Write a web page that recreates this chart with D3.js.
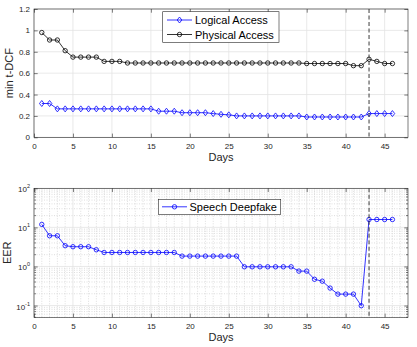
<!DOCTYPE html>
<html><head><meta charset="utf-8">
<script src="https://cdn.jsdelivr.net/npm/d3@7"></script>
<style>body{margin:0;background:#fff}svg{display:block}text{font-family:"Liberation Sans",Arial,sans-serif}</style>
</head><body><svg id="c" width="417" height="347"></svg>
<script>
const days = d3.range(1, 47);
const logicalAccess = [0.316,0.316,0.266,0.266,0.266,0.266,0.266,0.266,0.266,0.266,0.266,0.266,0.266,0.266,0.266,0.244,0.244,0.244,0.23,0.23,0.23,0.23,0.222,0.215,0.21,0.2,0.2,0.2,0.2,0.2,0.2,0.2,0.2,0.2,0.19,0.19,0.19,0.19,0.19,0.19,0.19,0.19,0.222,0.222,0.222,0.222];
const physicalAccess = [0.98,0.91,0.91,0.81,0.75,0.75,0.75,0.75,0.71,0.71,0.71,0.695,0.695,0.695,0.695,0.695,0.695,0.695,0.695,0.695,0.695,0.695,0.695,0.695,0.695,0.695,0.695,0.695,0.695,0.695,0.695,0.695,0.695,0.695,0.69,0.69,0.69,0.69,0.69,0.69,0.67,0.67,0.73,0.71,0.69,0.69];
const speechDeepfake = [11.9,6.1,6.1,3.4,3.2,3.2,3.2,2.67,2.28,2.28,2.28,2.28,2.28,2.28,2.28,2.28,2.28,2.28,1.84,1.84,1.84,1.84,1.84,1.84,1.84,1.84,0.98,0.98,0.98,0.98,0.98,0.98,0.98,0.76,0.76,0.47,0.42,0.28,0.196,0.196,0.196,0.099,15.9,15.9,15.9,15.9];
const xTicks = [0,5,10,15,20,25,30,35,40,45];
const yTicksTop = [0,0.2,0.4,0.6,0.8,1,1.2];
const yTicksBottom = [0.1,1,10,100];
const yExpBottom = ["-1","0","1","2"];
const cutDay = 43;

const svg = d3.select("#c");
const AX = "#262626", GRID = "#e3e3e3", MINOR = "#c8c8c8";
const L = 34, R = 408;
const x = d3.scaleLinear().domain([0,48]).range([L,R]);

function drawFrame(g, y, top, bot, isLog) {
  if (isLog) {
    const minors = [];
    [0.01,0.1,1,10].forEach(b => { for (let k=2;k<=9;k++){ const v=b*k; if (v>=0.05 && v<=100) minors.push(v);} });
    g.selectAll(".mgy").data(minors).enter().append("line")
      .attr("x1",L).attr("x2",R).attr("y1",d=>y(d)).attr("y2",d=>y(d))
      .attr("stroke",MINOR).attr("stroke-width",0.6).attr("stroke-dasharray","1,1.5");
    g.selectAll(".mgx").data(d3.range(1,48).filter(d=>d%5)).enter().append("line")
      .attr("x1",d=>x(d)).attr("x2",d=>x(d)).attr("y1",top).attr("y2",bot)
      .attr("stroke",MINOR).attr("stroke-width",0.6).attr("stroke-dasharray","1,1.5");
    [L,R].forEach((xx,i)=>{
      g.selectAll(".mt"+i).data(minors).enter().append("line")
        .attr("x1",xx).attr("x2",xx+(i?-2:2)).attr("y1",d=>y(d)).attr("y2",d=>y(d))
        .attr("stroke",AX).attr("stroke-width",0.6);
    });
  }
  const yt = isLog ? yTicksBottom : yTicksTop;
  g.selectAll(".gy").data(yt).enter().append("line")
    .attr("x1",L).attr("x2",R).attr("y1",d=>y(d)).attr("y2",d=>y(d))
    .attr("stroke",GRID).attr("stroke-width",0.8);
  g.selectAll(".gx").data(xTicks).enter().append("line")
    .attr("x1",d=>x(d)).attr("x2",d=>x(d)).attr("y1",top).attr("y2",bot)
    .attr("stroke",GRID).attr("stroke-width",0.8);
}

function drawAxes(g, y, top, bot, isLog, ylabel) {
  g.append("rect").attr("x",L).attr("y",top).attr("width",R-L).attr("height",bot-top)
    .attr("fill","none").attr("stroke",AX).attr("stroke-width",0.6);
  const xa = d3.axisBottom(x).tickValues(xTicks).tickSize(-3.7).tickPadding(6);
  const gx = g.append("g").attr("transform",`translate(0,${bot})`).call(xa);
  gx.select(".domain").remove();
  gx.selectAll("line").attr("stroke",AX).attr("stroke-width",0.6);
  gx.selectAll("text").attr("font-size",8).attr("fill",AX).attr("font-family","Liberation Sans, Arial");
  const xt = d3.axisTop(x).tickValues(xTicks).tickSize(-3.7).tickFormat("");
  const gxt = g.append("g").attr("transform",`translate(0,${top})`).call(xt);
  gxt.select(".domain").remove();
  gxt.selectAll("line").attr("stroke",AX).attr("stroke-width",0.6);

  const yt = isLog ? yTicksBottom : yTicksTop;
  const ya = d3.axisLeft(y).tickValues(yt).tickSize(-3.7).tickPadding(4)
    .tickFormat(isLog ? () => "" : d3.format("~g"));
  const gy = g.append("g").attr("transform",`translate(${L},0)`).call(ya);
  gy.select(".domain").remove();
  gy.selectAll("line").attr("stroke",AX).attr("stroke-width",0.6);
  gy.selectAll("text").attr("font-size",8).attr("fill",AX).attr("font-family","Liberation Sans, Arial");
  const yr = d3.axisRight(y).tickValues(yt).tickSize(-3.7).tickFormat("");
  const gyr = g.append("g").attr("transform",`translate(${R},0)`).call(yr);
  gyr.select(".domain").remove();
  gyr.selectAll("line").attr("stroke",AX).attr("stroke-width",0.6);
  if (isLog) {
    yt.forEach((v,i)=>{
      const t = g.append("text").attr("x",L-4).attr("y",y(v)+4).attr("text-anchor","end")
        .attr("font-size",8).attr("fill",AX);
      t.append("tspan").text("10");
      t.append("tspan").attr("font-size",5.5).attr("dy",-4).text(yExpBottom[i]);
    });
  }
  g.append("text").attr("x",(L+R)/2).attr("y",bot+24).attr("text-anchor","middle")
    .attr("font-size",11).attr("fill",AX).text("Days");
  const lx = isLog ? 11 : 13;
  g.append("text").attr("transform",`translate(${lx},${(top+bot)/2}) rotate(-90)`)
    .attr("text-anchor","middle").attr("font-size",11).attr("fill",AX).text(ylabel);
}

function diamond(sel, cx, cy, color) {
  sel.append("path").attr("d",`M${cx},${cy-3}L${cx+2.3},${cy}L${cx},${cy+3}L${cx-2.3},${cy}Z`)
    .attr("fill","none").attr("stroke",color).attr("stroke-width",0.8);
}
function circle(sel, cx, cy, color) {
  sel.append("circle").attr("cx",cx).attr("cy",cy).attr("r",2.2)
    .attr("fill","none").attr("stroke",color).attr("stroke-width",0.8);
}

// ---- Top plot ----
const T1 = 9, B1 = 137.3;
const y1 = d3.scaleLinear().domain([0,1.2]).range([B1,T1]);
const g1 = svg.append("g");
drawFrame(g1, y1, T1, B1, false);
const line1 = d3.line().x((d,i)=>x(days[i])).y(d=>y1(d));
g1.append("path").datum(physicalAccess).attr("d",line1).attr("fill","none").attr("stroke","#000").attr("stroke-width",0.8);
physicalAccess.forEach((v,i)=>circle(g1, x(days[i]), y1(v), "#000"));
g1.append("path").datum(logicalAccess).attr("d",line1).attr("fill","none").attr("stroke","#0000ff").attr("stroke-width",0.8);
logicalAccess.forEach((v,i)=>diamond(g1, x(days[i]), y1(v), "#0000ff"));
g1.append("line").attr("x1",x(cutDay)).attr("x2",x(cutDay)).attr("y1",T1).attr("y2",B1)
  .attr("stroke",AX).attr("stroke-width",0.9).attr("stroke-dasharray","4,2.5");
drawAxes(g1, y1, T1, B1, false, "min t-DCF");
const lg1 = g1.append("g");
lg1.append("rect").attr("x",162.7).attr("y",11.7).attr("width",116.3).attr("height",30.8)
  .attr("fill","#fff").attr("stroke",AX).attr("stroke-width",0.6);
[["Logical Access","#0000ff",diamond,20],["Physical Access","#000",circle,34.5]].forEach(([t,c,m,yy])=>{
  lg1.append("line").attr("x1",167).attr("x2",192).attr("y1",yy).attr("y2",yy).attr("stroke",c).attr("stroke-width",0.8);
  m(lg1,179.5,yy,c);
  lg1.append("text").attr("x",195).attr("y",yy+4).attr("font-size",11).attr("fill","#000").text(t);
});

// ---- Bottom plot ----
const T2 = 188.3, B2 = 317.3;
const y2 = d3.scaleLog().domain([0.05,100]).range([B2,T2]);
const g2 = svg.append("g");
drawFrame(g2, y2, T2, B2, true);
const line2 = d3.line().x((d,i)=>x(days[i])).y(d=>y2(d));
g2.append("path").datum(speechDeepfake).attr("d",line2).attr("fill","none").attr("stroke","#0000ff").attr("stroke-width",0.8);
speechDeepfake.forEach((v,i)=>circle(g2, x(days[i]), y2(v), "#0000ff"));
g2.append("line").attr("x1",x(cutDay)).attr("x2",x(cutDay)).attr("y1",T2).attr("y2",B2)
  .attr("stroke",AX).attr("stroke-width",0.9).attr("stroke-dasharray","4,2.5");
drawAxes(g2, y2, T2, B2, true, "EER");
const lg2 = g2.append("g");
lg2.append("rect").attr("x",158.3).attr("y",199.3).attr("width",122.4).attr("height",15)
  .attr("fill","#fff").attr("stroke",AX).attr("stroke-width",0.6);
lg2.append("line").attr("x1",162).attr("x2",187).attr("y1",206.8).attr("y2",206.8).attr("stroke","#0000ff").attr("stroke-width",0.8);
circle(lg2,174.5,206.8,"#0000ff");
lg2.append("text").attr("x",189.5).attr("y",210.8).attr("font-size",11).attr("fill","#000").text("Speech Deepfake");
</script></body></html>
